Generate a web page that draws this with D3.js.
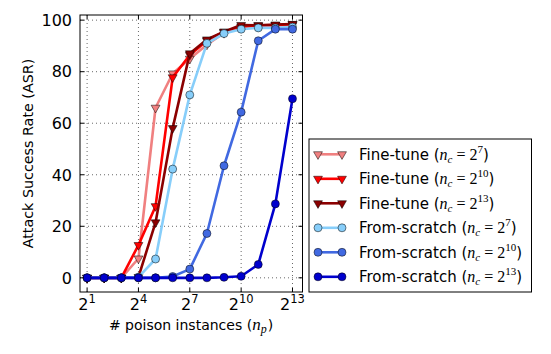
<!DOCTYPE html>
<html><head><meta charset="utf-8">
<script src="https://cdn.jsdelivr.net/npm/d3@7"></script>
<style>body{margin:0;background:#fff}svg{display:block}</style>
</head><body>
<script>
// ---- data ----
const xExponents = [1,2,3,4,5,6,7,8,9,10,11,12,13];
const xTickExponents = [1,4,7,10,13];
const yTicks = [0,20,40,60,80,100];
const seriesNames = ["Fine-tune","Fine-tune","Fine-tune","From-scratch","From-scratch","From-scratch"];
const seriesNc = ["7","10","13","7","10","13"];
const seriesColors = ["#f08080","#ff0000","#8b0000","#87cefa","#4169e1","#0000cd"];
const seriesMarkers = ["tri","tri","tri","circ","circ","circ"];
const ftune7  = [0,0,0,7.5,66,79.3,85,90.5,95,97,97.5,98,98];
const ftune10 = [0,0,0,12.7,27.8,77.8,86.5,92,95.5,97.5,98,98,98.5];
const ftune13 = [0,0,0,0.3,21.5,58.1,87.1,92.5,95.5,98.1,98,98.3,98.5];
const scratch7  = [0,0,0,0.3,7.3,42.2,71,91,94.8,96.5,97,97,97.3];
const scratch10 = [0,0,0,0,0,0.5,3.4,17.2,43.5,64.3,92,96.5,96.5];
const scratch13 = [0,0,0,0,0,0,0,0,0.2,0.6,5.2,28.7,69.5];
const seriesValues = [ftune7, ftune10, ftune13, scratch7, scratch10, scratch13];

const W = 551, H = 354;
const svg = d3.select("body").append("svg").attr("width", W).attr("height", H);
const L = 80, R = 302.5, T = 15, B = 292;
const x = d3.scaleLog().base(2).domain([1.5, 12288]).range([L, R]);
const y = d3.scaleLinear().domain([-5.5, 102]).range([B, T]);
const sans = "DejaVu Sans, sans-serif";
const serif = "Liberation Serif, DejaVu Serif, serif";

// grid
const grid = svg.append("g");
xTickExponents.forEach(e => {
  grid.append("line").attr("x1", x(2**e)).attr("x2", x(2**e)).attr("y1", T).attr("y2", B)
    .attr("stroke", "#000").attr("stroke-width", 0.6).attr("stroke-dasharray", "1,3");
});
yTicks.forEach(v => {
  grid.append("line").attr("x1", L).attr("x2", R).attr("y1", y(v)).attr("y2", y(v))
    .attr("stroke", "#000").attr("stroke-width", 0.6).attr("stroke-dasharray", "1,3");
});

// lines
const line = d3.line().x((d,i) => x(2**xExponents[i])).y(d => y(d));
const tri = d3.symbol().type(d3.symbolTriangle).size(34);
function drawMarker(g, type, cx, cy, color) {
  if (type === "tri") {
    g.append("path").attr("d", tri()).attr("transform", `translate(${cx},${cy}) rotate(180)`)
      .attr("fill", color).attr("stroke", "#000").attr("stroke-width", 0.5);
  } else {
    g.append("circle").attr("cx", cx).attr("cy", cy).attr("r", 4)
      .attr("fill", color).attr("stroke", "#000").attr("stroke-width", 0.5);
  }
}
const plot = svg.append("g");
seriesValues.forEach((vals, s) => {
  const g = plot.append("g");
  g.append("path").attr("d", line(vals)).attr("fill", "none")
    .attr("stroke", seriesColors[s]).attr("stroke-width", 2.6).attr("stroke-linejoin", "round");
  vals.forEach((v, i) => drawMarker(g, seriesMarkers[s], x(2**xExponents[i]), y(v), seriesColors[s]));
});

// frame
svg.append("rect").attr("x", L).attr("y", T).attr("width", R - L).attr("height", B - T)
  .attr("fill", "none").attr("stroke", "#000").attr("stroke-width", 1);

// ticks (inward, all sides)
const tl = 4;
xTickExponents.forEach(e => {
  const px = x(2**e);
  svg.append("line").attr("x1", px).attr("x2", px).attr("y1", B).attr("y2", B - tl).attr("stroke", "#000");
  svg.append("line").attr("x1", px).attr("x2", px).attr("y1", T).attr("y2", T + tl).attr("stroke", "#000");
  const t = svg.append("text").attr("x", px).attr("y", 310).attr("text-anchor", "middle")
    .attr("font-family", sans).attr("font-size", 16);
  t.append("tspan").text("2");
  t.append("tspan").attr("dy", -7).attr("font-size", 11.5).text(String(e));
});
yTicks.forEach(v => {
  const py = y(v);
  svg.append("line").attr("x1", L).attr("x2", L + tl).attr("y1", py).attr("y2", py).attr("stroke", "#000");
  svg.append("line").attr("x1", R).attr("x2", R - tl).attr("y1", py).attr("y2", py).attr("stroke", "#000");
  svg.append("text").attr("x", 72).attr("y", py + 5.8).attr("text-anchor", "end")
    .attr("font-family", sans).attr("font-size", 16).text(v);
});

// axis labels
svg.append("text").attr("transform", `translate(33,${(T + B) / 2}) rotate(-90)`)
  .attr("text-anchor", "middle").attr("font-family", sans).attr("font-size", 14.3)
  .text("Attack Success Rate (ASR)");
const xl = svg.append("text").attr("x", 191).attr("y", 330).attr("text-anchor", "middle")
  .attr("font-family", sans).attr("font-size", 14);
xl.append("tspan").text("# poison instances (");
xl.append("tspan").attr("font-family", serif).attr("font-style", "italic").attr("font-size", 17).text("n");
xl.append("tspan").attr("font-family", serif).attr("font-style", "italic").attr("font-size", 12).attr("dy", 3).text("p");
xl.append("tspan").attr("dy", -3).attr("dx", 1).text(")");

// legend
const lg = svg.append("g");
lg.append("rect").attr("x", 309).attr("y", 139).attr("width", 222.5).attr("height", 153)
  .attr("fill", "#fff").attr("stroke", "#000").attr("stroke-width", 1);
seriesNames.forEach((name, s) => {
  const cy = 154.3 + s * 24.5;
  lg.append("line").attr("x1", 318).attr("x2", 342).attr("y1", cy).attr("y2", cy)
    .attr("stroke", seriesColors[s]).attr("stroke-width", 2.6);
  drawMarker(lg, seriesMarkers[s], 318, cy, seriesColors[s]);
  drawMarker(lg, seriesMarkers[s], 342, cy, seriesColors[s]);
  const t = lg.append("text").attr("x", 359).attr("y", cy + 5.5).attr("font-family", sans).attr("font-size", 15);
  t.append("tspan").text(name + " (");
  t.append("tspan").attr("font-family", serif).attr("font-style", "italic").attr("font-size", 16).text("n");
  t.append("tspan").attr("font-family", serif).attr("font-style", "italic").attr("font-size", 11).attr("dy", 3).text("c");
  t.append("tspan").attr("font-family", serif).attr("font-size", 16).attr("dy", -3).text(" = 2");
  t.append("tspan").attr("font-family", serif).attr("font-size", 11).attr("dy", -7).text(seriesNc[s]);
  t.append("tspan").attr("dy", 7).text(")");
});
</script>
</body></html>
